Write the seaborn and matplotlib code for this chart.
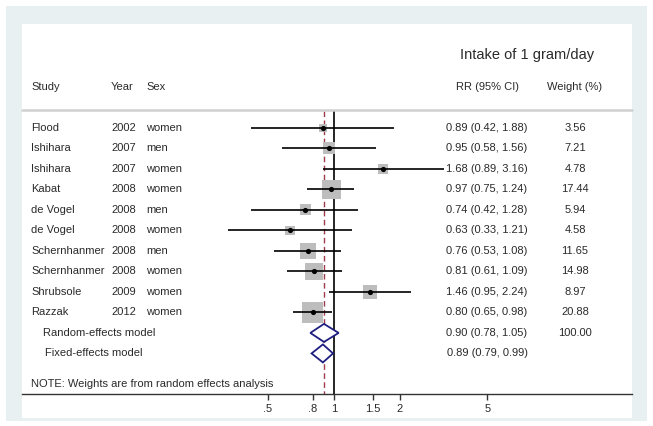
import numpy as np
import pandas as pd
import matplotlib
matplotlib.use('Agg')
import matplotlib.pyplot as plt
import matplotlib.transforms as mtransforms
from matplotlib.patches import Rectangle, Polygon
import seaborn as sns

# ─── Data ─────────────────────────────────────────────────────────────────────
studies = ['Flood', 'Ishihara', 'Ishihara', 'Kabat', 'de Vogel', 'de Vogel',
           'Schernhanmer', 'Schernhanmer', 'Shrubsole', 'Razzak']
years   = [2002, 2007, 2007, 2008, 2008, 2008, 2008, 2008, 2009, 2012]
sexes   = ['women', 'men', 'women', 'women', 'men', 'women',
           'men', 'women', 'women', 'women']
rr      = [0.89, 0.95, 1.68, 0.97, 0.74, 0.63, 0.76, 0.81, 1.46, 0.80]
lo      = [0.42, 0.58, 0.89, 0.75, 0.42, 0.33, 0.53, 0.61, 0.95, 0.65]
hi      = [1.88, 1.56, 3.16, 1.24, 1.28, 1.21, 1.08, 1.09, 2.24, 0.98]
weights = [3.56, 7.21, 4.78, 17.44, 5.94, 4.58, 11.65, 14.98, 8.97, 20.88]

pooled_names = ['Random-effects model', 'Fixed-effects model']
pooled_rr    = [0.90, 0.89]
pooled_lo    = [0.78, 0.79]
pooled_hi    = [1.05, 0.99]
pooled_wt    = ['100.00', '']

xticks      = [0.5, 0.8, 1, 1.5, 2, 5]
xticklabels = ['.5', '.8', '1', '1.5', '2', '5']

df = pd.DataFrame({'study': studies, 'year': years, 'sex': sexes,
                   'rr': rr, 'lo': lo, 'hi': hi, 'weight': weights})
df['row'] = np.arange(len(df))

# ─── Figure ───────────────────────────────────────────────────────────────────
sns.set_theme(style='white')
plt.rcParams['font.family'] = ['Liberation Sans', 'DejaVu Sans']

W, H = 653, 426
fig = plt.figure(figsize=(W / 100, H / 100), dpi=100, facecolor='white')

def px_rect(x0, y0, x1, y1, **kw):
    fig.patches.append(Rectangle((x0 / W, 1 - y1 / H), (x1 - x0) / W, (y1 - y0) / H,
                                 transform=fig.transFigure, zorder=-5, **kw))

px_rect(6, 6, 647, 421, facecolor='#e9f0f2', edgecolor='none')
px_rect(22, 24, 632, 418, facecolor='white', edgecolor='none')

ax = fig.add_axes([22 / W, 1 - 394 / H, 610 / W, 370 / H])
ax.set_facecolor('none')
ax.set_xscale('log')
ax.set_xlim(np.exp(-3.277), np.exp(3.130))
ax.set_ylim(12.98, -5.07)

txt = '#2a2a2a'
tr = mtransforms.blended_transform_factory(ax.transAxes, ax.transData)
fs = 8

# header
ax.text(0.8279, -3.56, 'Intake of 1 gram/day', transform=tr, ha='center', va='center',
        fontsize=10.5, color=txt)
for xf, s, ha in [(0.0148, 'Study', 'left'), (0.1459, 'Year', 'left'),
                  (0.2033, 'Sex', 'left'), (0.7623, 'RR (95% CI)', 'center'),
                  (0.9066, 'Weight (%)', 'center')]:
    ax.text(xf, -2.0, s, transform=tr, ha=ha, va='center', fontsize=fs, color=txt)
ax.plot([0, 1], [-0.88, -0.88], transform=tr, color='#d0d0d0', lw=1.8, clip_on=False)

# reference lines
ax.plot([1, 1], [-0.83, 12.98], color='black', lw=1.2, zorder=1)
ax.plot([pooled_rr[0]] * 2, [-0.83, 12.98], color='#9b3b4b', lw=1.0,
        ls=(0, (4, 2.5)), zorder=1)

# study rows
for _, r in df.iterrows():
    ax.text(0.0148, r['row'], r['study'], transform=tr, va='center', fontsize=fs, color=txt)
    ax.text(0.1459, r['row'], str(r['year']), transform=tr, va='center', fontsize=fs, color=txt)
    ax.text(0.2033, r['row'], r['sex'], transform=tr, va='center', fontsize=fs, color=txt)
    ax.text(0.7623, r['row'], f"{r['rr']:.2f} ({r['lo']:.2f}, {r['hi']:.2f})",
            transform=tr, ha='center', va='center', fontsize=fs, color=txt)
    ax.text(0.9066, r['row'], f"{r['weight']:.2f}", transform=tr, ha='center',
            va='center', fontsize=fs, color=txt)

sns.scatterplot(data=df, x='rr', y='row', marker='s', color='#bdbdbd',
                s=df['weight'] * 10.6, linewidth=0, ax=ax, zorder=2, legend=False)
ax.hlines(df['row'], df['lo'], df['hi'], color='black', lw=1.2, zorder=3)
sns.scatterplot(data=df, x='rr', y='row', marker='o', color='black', s=14,
                linewidth=0, ax=ax, zorder=4, legend=False)

# pooled diamonds
n = len(df)
for i, name in enumerate(pooled_names):
    y = n + i
    ax.text(0.0344 + 0.0033 * i, y, name, transform=tr, va='center', fontsize=fs, color=txt)
    ax.text(0.7623, y, f"{pooled_rr[i]:.2f} ({pooled_lo[i]:.2f}, {pooled_hi[i]:.2f})",
            transform=tr, ha='center', va='center', fontsize=fs, color=txt)
    ax.text(0.9066, y, pooled_wt[i], transform=tr, ha='center', va='center',
            fontsize=fs, color=txt)
    ax.add_patch(Polygon([(pooled_lo[i], y), (pooled_rr[i], y - 0.44),
                          (pooled_hi[i], y), (pooled_rr[i], y + 0.44)],
                         closed=True, facecolor='white', edgecolor='#1f1f80',
                         lw=1.3, zorder=5))

ax.text(0.0148, 12.49, 'NOTE: Weights are from random effects analysis', transform=tr,
        va='center', fontsize=fs, color=txt)

# axes styling
for side in ['top', 'right', 'left']:
    ax.spines[side].set_visible(False)
ax.spines['bottom'].set_color('#333333')
ax.spines['bottom'].set_linewidth(1.0)
ax.set_yticks([])
ax.set_xticks(xticks)
ax.set_xticklabels(xticklabels)
ax.xaxis.set_minor_locator(matplotlib.ticker.NullLocator())
ax.tick_params(axis='x', bottom=True, length=4, width=1, color='#333333',
               labelsize=fs, labelcolor=txt, pad=3)
ax.set_xlabel('')
ax.set_ylabel('')

fig.savefig('out.png', dpi=100)
